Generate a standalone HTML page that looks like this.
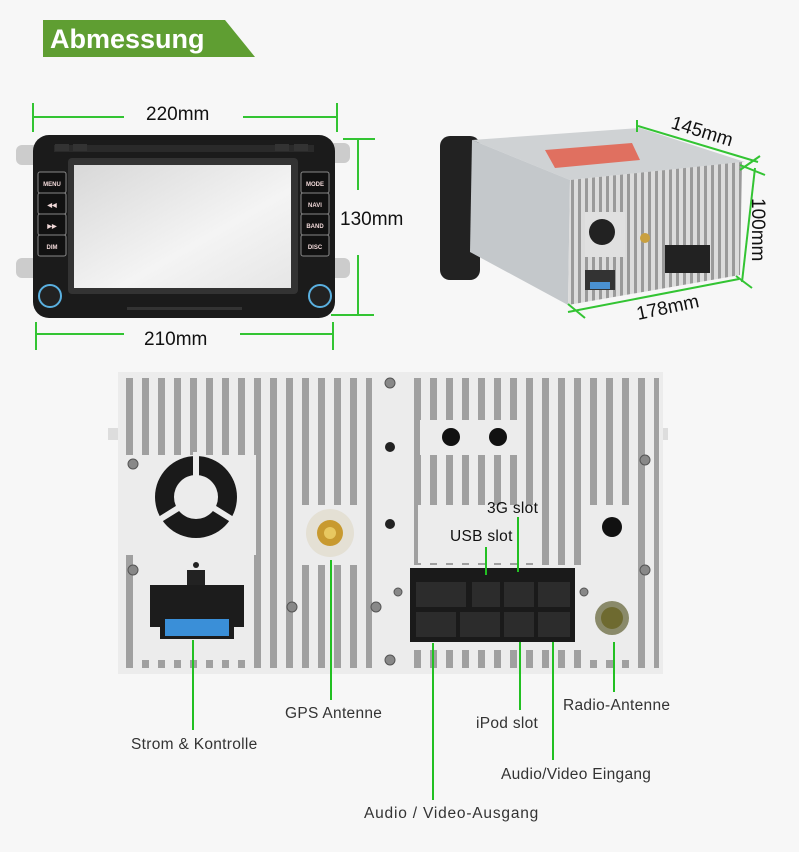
<!DOCTYPE html>
<html><head><meta charset="utf-8"><style>
html,body{margin:0;padding:0;background:#f7f7f7;}
svg{display:block;}
text{font-family:"Liberation Sans",sans-serif;}
</style></head><body>
<svg width="799" height="852" viewBox="0 0 799 852" xmlns="http://www.w3.org/2000/svg">
<defs>
<pattern id="fins" x="124" y="0" width="16" height="10" patternUnits="userSpaceOnUse">
<rect x="0" y="0" width="16" height="10" fill="#ececec"/>
<rect x="2" y="0" width="7" height="10" fill="#a0a0a0"/>
</pattern>
<pattern id="fins2" x="430" y="0" width="7" height="10" patternUnits="userSpaceOnUse">
<rect width="7" height="10" fill="#dcdcdc"/><rect x="1" width="3" height="10" fill="#9a9a9a"/>
</pattern>
<linearGradient id="scr" x1="0" y1="0" x2="1" y2="1">
<stop offset="0" stop-color="#d8d8d8"/><stop offset="0.6" stop-color="#f4f4f4"/><stop offset="1" stop-color="#e6e6e6"/>
</linearGradient>
</defs>
<rect width="799" height="852" fill="#f7f7f7"/>

<polygon points="43,20 225,20 255,57 43,57" fill="#5f9e32"/>
<text x="50" y="48" font-size="27" font-weight="bold" fill="#fff">Abmessung</text>

<rect x="16" y="145" width="24" height="20" rx="6" fill="#ccc"/>
<rect x="16" y="258" width="24" height="20" rx="6" fill="#ccc"/>
<rect x="328" y="143" width="22" height="20" rx="6" fill="#ccc"/>
<rect x="328" y="258" width="22" height="20" rx="6" fill="#ccc"/>
<rect x="33" y="135" width="302" height="183" rx="16" fill="#1b1b1b"/>
<rect x="54" y="145" width="260" height="7" fill="#2a2a2a"/>
<rect x="55" y="144" width="14" height="7" fill="#333"/><rect x="73" y="144" width="14" height="7" fill="#333"/>
<rect x="275" y="144" width="14" height="7" fill="#333"/><rect x="294" y="144" width="14" height="7" fill="#333"/>
<rect x="68" y="158" width="230" height="136" rx="4" fill="#333"/>
<rect x="74" y="165" width="217" height="123" fill="url(#scr)"/>
<g fill="#111" stroke="#888" stroke-width="1">
<rect x="38" y="172" width="28" height="21" rx="2"/><rect x="38" y="193" width="28" height="21" rx="2"/>
<rect x="38" y="214" width="28" height="21" rx="2"/><rect x="38" y="235" width="28" height="21" rx="2"/>
<rect x="301" y="172" width="28" height="21" rx="2"/><rect x="301" y="193" width="28" height="21" rx="2"/>
<rect x="301" y="214" width="28" height="21" rx="2"/><rect x="301" y="235" width="28" height="21" rx="2"/>
</g>
<g font-size="6" fill="#f0d8d8" font-weight="bold" text-anchor="middle">
<text x="52" y="186">MENU</text><text x="52" y="207">◀◀</text><text x="52" y="228">▶▶</text><text x="52" y="249">DIM</text>
<text x="315" y="186">MODE</text><text x="315" y="207">NAVI</text><text x="315" y="228">BAND</text><text x="315" y="249">DISC</text>
</g>
<circle cx="50" cy="296" r="11" fill="#222" stroke="#5ab0e0" stroke-width="2"/>
<circle cx="320" cy="296" r="11" fill="#222" stroke="#5ab0e0" stroke-width="2"/>
<rect x="127" y="307" width="115" height="3" fill="#333"/>

<g stroke="#33c433" stroke-width="2" fill="none">
<line x1="33" y1="103" x2="33" y2="132"/><line x1="337" y1="103" x2="337" y2="132"/>
<line x1="33" y1="117" x2="124" y2="117"/><line x1="243" y1="117" x2="337" y2="117"/>
<line x1="343" y1="139" x2="375" y2="139"/><line x1="358" y1="139" x2="358" y2="190"/>
<line x1="358" y1="255" x2="358" y2="315"/><line x1="331" y1="315" x2="374" y2="315"/>
<line x1="36" y1="322" x2="36" y2="350"/><line x1="333" y1="322" x2="333" y2="350"/>
<line x1="36" y1="334" x2="124" y2="334"/><line x1="240" y1="334" x2="333" y2="334"/>
</g>
<g font-size="19" fill="#111">
<text x="146" y="120">220mm</text><text x="340" y="225">130mm</text><text x="144" y="345">210mm</text>
</g>

<rect x="440" y="136" width="40" height="144" rx="10" fill="#222"/>
<polygon points="472,140 640,128 745,162 570,180" fill="#cfd2d4"/>
<polygon points="545,150 632,143 640,160 555,168" fill="#e07060"/>
<polygon points="472,140 570,180 568,305 470,252" fill="#c4c8cb"/>
<polygon points="570,180 742,162 740,275 568,305" fill="url(#fins2)"/>
<rect x="585" y="212" width="40" height="45" fill="#e0e0e0"/>
<circle cx="602" cy="232" r="13" fill="#222"/>
<rect x="665" y="245" width="45" height="28" fill="#222"/>
<rect x="585" y="270" width="30" height="20" fill="#333"/><rect x="590" y="282" width="20" height="7" fill="#4a90d0"/>
<circle cx="645" cy="238" r="5" fill="#c9a040"/>
<g stroke="#33c433" stroke-width="2" fill="none">
<line x1="638" y1="126" x2="758" y2="162"/><line x1="637" y1="120" x2="637" y2="132"/><line x1="760" y1="156" x2="740" y2="170"/>
<line x1="755" y1="168" x2="742" y2="282"/><line x1="740" y1="165" x2="765" y2="175"/><line x1="736" y1="276" x2="752" y2="288"/>
<line x1="568" y1="312" x2="739" y2="279"/><line x1="568" y1="304" x2="585" y2="318"/>
</g>
<g font-size="19" fill="#111">
<text x="670" y="128" transform="rotate(17 670 128)">145mm</text>
<text x="752" y="198" transform="rotate(90 752 198)">100mm</text>
<text x="638" y="320" transform="rotate(-12 638 320)">178mm</text>
</g>

<rect x="108" y="428" width="12" height="12" fill="#ddd"/>
<rect x="658" y="428" width="10" height="12" fill="#ddd"/>
<rect x="118" y="372" width="545" height="302" fill="#ececec"/>
<rect x="124" y="378" width="535" height="290" fill="url(#fins)"/>
<rect x="126" y="455" width="130" height="100" fill="#ececec"/>
<rect x="138" y="555" width="112" height="105" fill="#ececec"/>
<rect x="372" y="378" width="38" height="290" fill="#ececec"/>
<rect x="300" y="505" width="60" height="60" fill="#ececec"/>
<rect x="420" y="420" width="100" height="35" fill="#ececec"/>
<rect x="418" y="505" width="115" height="58" fill="#ececec"/>
<rect x="585" y="505" width="50" height="155" fill="#ececec"/>
<rect x="400" y="565" width="182" height="85" fill="#ececec"/>
<circle cx="196" cy="497" r="41" fill="#1a1a1a"/>
<circle cx="196" cy="497" r="22" fill="#ececec"/>
<g stroke="#ececec" stroke-width="6"><line x1="196" y1="497" x2="196" y2="452"/><line x1="196" y1="497" x2="159" y2="520"/><line x1="196" y1="497" x2="233" y2="520"/></g>
<rect x="187" y="570" width="18" height="16" fill="#222"/>
<rect x="150" y="585" width="94" height="42" fill="#1c1c1c"/>
<rect x="160" y="615" width="74" height="24" fill="#1c1c1c"/>
<rect x="165" y="619" width="64" height="17" fill="#3a8fd8"/>
<circle cx="196" cy="565" r="3" fill="#222"/>
<circle cx="330" cy="533" r="24" fill="#e4e0d4"/>
<circle cx="330" cy="533" r="13" fill="#c89a30"/>
<circle cx="330" cy="533" r="6" fill="#e8c860"/>
<circle cx="451" cy="437" r="9" fill="#111"/><circle cx="498" cy="437" r="9" fill="#111"/>
<circle cx="390" cy="447" r="5" fill="#222"/><circle cx="390" cy="524" r="5" fill="#222"/>
<circle cx="612" cy="527" r="10" fill="#111"/>
<circle cx="612" cy="618" r="17" fill="#8a8a6a"/><circle cx="612" cy="618" r="11" fill="#6e6a30"/>
<g fill="#888" stroke="#555"><circle cx="390" cy="383" r="5"/><circle cx="390" cy="660" r="5"/><circle cx="133" cy="464" r="5"/><circle cx="133" cy="570" r="5"/><circle cx="645" cy="460" r="5"/><circle cx="645" cy="570" r="5"/><circle cx="292" cy="607" r="5"/><circle cx="376" cy="607" r="5"/><circle cx="398" cy="592" r="4"/><circle cx="584" cy="592" r="4"/></g>
<rect x="410" y="568" width="165" height="74" fill="#1a1a1a"/>
<g fill="#2c2c2c">
<rect x="416" y="582" width="50" height="25"/><rect x="472" y="582" width="28" height="25"/><rect x="504" y="582" width="30" height="25"/><rect x="538" y="582" width="32" height="25"/>
<rect x="416" y="612" width="40" height="25"/><rect x="460" y="612" width="40" height="25"/><rect x="504" y="612" width="30" height="25"/><rect x="538" y="612" width="32" height="25"/>
</g>

<g stroke="#22c022" stroke-width="2">
<line x1="193" y1="640" x2="193" y2="730"/>
<line x1="331" y1="560" x2="331" y2="700"/>
<line x1="433" y1="643" x2="433" y2="800"/>
<line x1="520" y1="642" x2="520" y2="710"/>
<line x1="553" y1="642" x2="553" y2="760"/>
<line x1="614" y1="642" x2="614" y2="692"/>
<line x1="486" y1="547" x2="486" y2="575"/>
<line x1="518" y1="517" x2="518" y2="572"/>
</g>
<g font-size="15.5" fill="#333" letter-spacing="0.3">
<text x="131" y="749">Strom &amp; Kontrolle</text>
<text x="285" y="718">GPS Antenne</text>
<text x="364" y="818" letter-spacing="0.8">Audio / Video-Ausgang</text>
<text x="476" y="728">iPod slot</text>
<text x="501" y="779">Audio/Video Eingang</text>
<text x="563" y="710">Radio-Antenne</text>
<text x="450" y="541" fill="#111">USB slot</text>
<text x="487" y="513" fill="#111">3G slot</text>
</g>
</svg>
</body></html>
